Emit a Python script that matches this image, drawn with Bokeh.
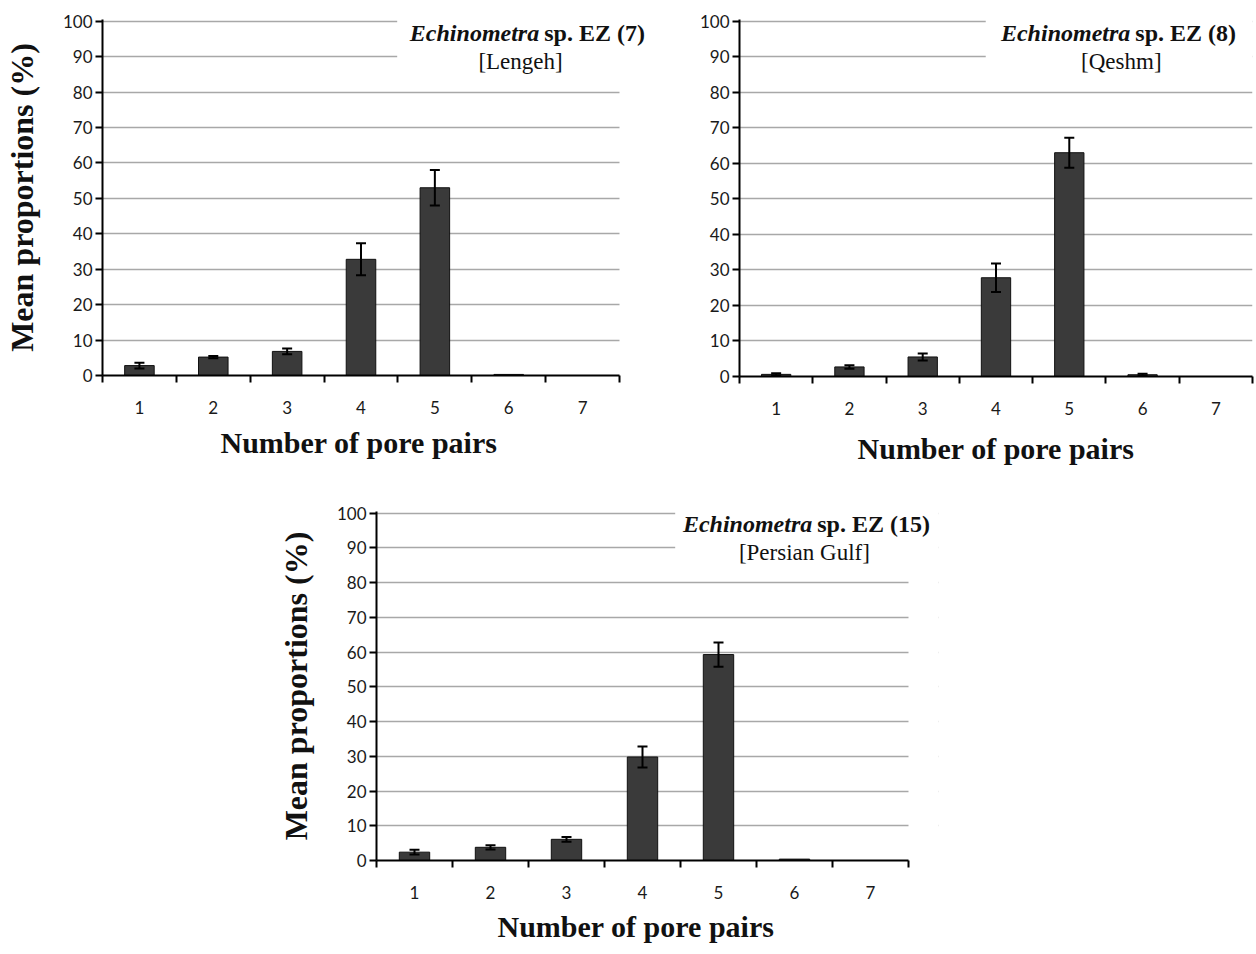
from bokeh.plotting import figure
from bokeh.models import (ColumnDataSource, Range1d, FixedTicker, Whisker, TeeHead,
                          Label, BoxAnnotation, Title)
from bokeh.layouts import column, row
from bokeh.embed import file_html
from bokeh.resources import INLINE

pores = [1, 2, 3, 4, 5, 6, 7]
tick_labels = ["1", "2", "3", "4", "5", "6", "7"]
y_ticks = [0, 10, 20, 30, 40, 50, 60, 70, 80, 90, 100]

lengeh_mean = [2.8, 5.2, 6.8, 32.8, 53.0, 0.3, 0.0]
lengeh_err = [0.8, 0.3, 0.8, 4.5, 5.0, 0.0, 0.0]
qeshm_mean = [0.6, 2.7, 5.5, 27.8, 63.0, 0.5, 0.0]
qeshm_err = [0.3, 0.5, 1.0, 4.0, 4.2, 0.3, 0.0]
gulf_mean = [2.4, 3.8, 6.1, 29.8, 59.3, 0.4, 0.0]
gulf_err = [0.7, 0.6, 0.7, 3.0, 3.5, 0.0, 0.0]

SERIF = "Liberation Serif"
TICKFONT = "Lato"
YTOP = 100.5
XLO, XHI = 0.5, 7.5
XLABEL = "Number of pore pairs"


def panel(mean, err, species, place, ylabel, fw, ext, fh, bl, br, bt, bb,
          split_x, place_x, mask_left, xlab_offset=None, xlab_standoff=10):
    x_end = XLO + (XHI - XLO) * (fw + ext) / fw
    p = figure(frame_width=fw + ext, frame_height=fh, min_border_left=bl,
               min_border_right=br, min_border_top=bt, min_border_bottom=bb,
               x_range=Range1d(XLO, x_end), y_range=Range1d(0, YTOP),
               output_backend="svg", toolbar_location=None, tools="")
    p.outline_line_color = None
    p.background_fill_color = "white"
    p.border_fill_color = "white"

    src = ColumnDataSource(dict(x=pores, top=mean))
    p.vbar(x="x", top="top", width=0.4, source=src, fill_color="#3a3a3a",
           line_color="#111111", line_width=1)

    xs, up, lo = [], [], []
    for x, m, e in zip(pores, mean, err):
        if e > 0:
            xs.append(x)
            up.append(m + e)
            lo.append(m - e)
    esrc = ColumnDataSource(dict(x=xs, upper=up, lower=lo))
    w = Whisker(base="x", upper="upper", lower="lower", source=esrc,
                line_color="black", line_width=2, level="overlay",
                upper_head=TeeHead(size=10, line_width=2, line_color="black"),
                lower_head=TeeHead(size=10, line_width=2, line_color="black"))
    p.add_layout(w)

    # grid
    p.xgrid.grid_line_color = None
    p.ygrid.grid_line_color = "#a8a8a8"
    p.ygrid.grid_line_width = 1.5
    p.ygrid.ticker = FixedTicker(ticks=y_ticks[1:])

    # masks: behind title, and beyond the end of the x axis
    p.add_layout(BoxAnnotation(left=mask_left, bottom=85, fill_color="white",
                               fill_alpha=1.0, line_color=None, level="underlay"))
    p.add_layout(BoxAnnotation(left=XHI, fill_color="white", fill_alpha=1.0,
                               line_color=None, level="underlay"))

    # x axis
    xa = p.xaxis[0]
    xa.bounds = (XLO, XHI)
    xa.ticker = FixedTicker(ticks=pores, minor_ticks=[0.5 + i for i in range(8)])
    xa.major_label_overrides = {i: s for i, s in zip(pores, tick_labels)}
    xa.major_tick_line_color = None
    xa.minor_tick_line_color = "black"
    xa.minor_tick_line_width = 2
    xa.minor_tick_out = 7
    xa.minor_tick_in = 0
    xa.axis_line_color = "black"
    xa.axis_line_width = 2
    xa.major_label_text_font = TICKFONT
    xa.major_label_text_font_size = "17px"
    xa.major_label_text_color = "#1a1a1a"
    xa.major_label_standoff = 18
    if xlab_offset is None:
        xa.axis_label = XLABEL
        xa.axis_label_text_font = SERIF
        xa.axis_label_text_font_style = "bold"
        xa.axis_label_text_font_size = "30px"
        xa.axis_label_text_color = "#111111"
        xa.axis_label_standoff = 14
    else:
        p.add_layout(Title(text=XLABEL, align="left", offset=xlab_offset,
                           standoff=xlab_standoff, text_font=SERIF,
                           text_font_style="bold", text_font_size="30px",
                           text_color="#111111"), "below")

    ya = p.yaxis[0]
    ya.ticker = FixedTicker(ticks=y_ticks)
    ya.major_tick_line_color = "black"
    ya.major_tick_line_width = 2
    ya.major_tick_out = 7
    ya.major_tick_in = 0
    ya.minor_tick_line_color = None
    ya.axis_line_color = "black"
    ya.axis_line_width = 2
    ya.major_label_text_font = TICKFONT
    ya.major_label_text_font_size = "17px"
    ya.major_label_text_color = "#1a1a1a"
    ya.major_label_standoff = 3
    if ylabel:
        ya.axis_label = ylabel
        ya.axis_label_text_font = SERIF
        ya.axis_label_text_font_style = "bold"
        ya.axis_label_text_font_size = "32px"
        ya.axis_label_text_color = "#111111"
        ya.axis_label_standoff = 20

    p.add_layout(Label(x=split_x, y=96.8, x_offset=-2, text="Echinometra",
                       text_font=SERIF, text_font_style="bold italic",
                       text_font_size="24px", text_align="right",
                       text_baseline="middle", text_color="#111111"))
    p.add_layout(Label(x=split_x, y=96.8, x_offset=3, text="sp. EZ " + species,
                       text_font=SERIF, text_font_style="bold", text_font_size="24px",
                       text_align="left", text_baseline="middle", text_color="#111111"))
    p.add_layout(Label(x=place_x, y=88.6, text=place, text_font=SERIF,
                       text_font_style="normal", text_font_size="23px",
                       text_align="center", text_baseline="middle", text_color="#111111"))
    return p


p1 = panel(lengeh_mean, lengeh_err, "(7)", "[Lengeh]", "Mean proportions (%)",
           517, 33, 356, 100, 0, 19, 95, 6.44, 6.16, 4.49,
           xlab_offset=118, xlab_standoff=15)
p2 = panel(qeshm_mean, qeshm_err, "(8)", "[Qeshm]", None,
           513, 0, 357, 87, 2, 19, 94, 5.86, 5.71, 3.86)
p3 = panel(gulf_mean, gulf_err, "(15)", "[Persian Gulf]", "Mean proportions (%)",
           532, 30, 349, 376, 300, 41, 92, 6.26, 6.13, 4.43,
           xlab_offset=121, xlab_standoff=12)

layout = column(row(p1, p2), p3)
open("out.html", "w").write(file_html(layout, INLINE))
